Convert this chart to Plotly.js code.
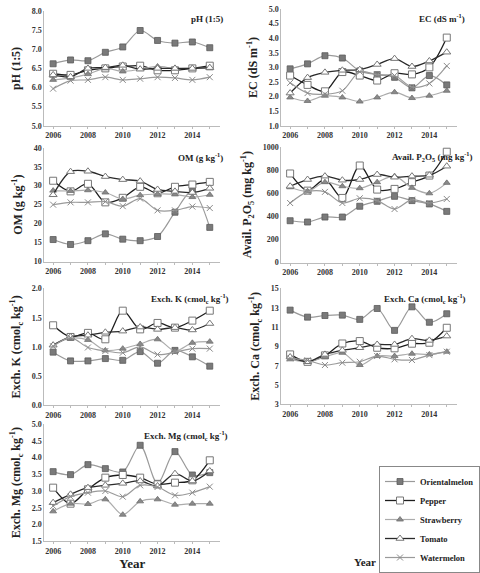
<!DOCTYPE html>
<html>
<head>
<meta charset="utf-8">
<script src="https://cdn.plot.ly/plotly-3.0.1.min.js"></script>
<style>
  html, body { margin: 0; padding: 0; background: #fff; }
  #chart { width: 480px; height: 573px; }
</style>
</head>
<body>
<div id="chart"></div>
<script>
// Soil properties of greenhouse fields by crop, 2006–2015
const years = [2006, 2007, 2008, 2009, 2010, 2011, 2012, 2013, 2014, 2015];
const crops = ['Orientalmelon', 'Pepper', 'Strawberry', 'Tomato', 'Watermelon'];
const yearTicks = [2006, 2008, 2010, 2012, 2014];

// Each array lists the crops in the order above
const pH = [
  [6.62, 6.72, 6.70, 6.92, 7.06, 7.49, 7.23, 7.16, 7.19, 7.04],
  [6.36, 6.33, 6.45, 6.50, 6.55, 6.57, 6.45, 6.45, 6.50, 6.57],
  [6.20, 6.25, 6.35, 6.50, 6.42, 6.48, 6.55, 6.50, 6.50, 6.50],
  [6.33, 6.28, 6.50, 6.52, 6.58, 6.48, 6.50, 6.50, 6.50, 6.52],
  [5.97, 6.18, 6.20, 6.27, 6.20, 6.23, 6.27, 6.25, 6.20, 6.27]
];
const ec = [
  [2.95, 3.12, 3.40, 3.32, 2.88, 2.75, 2.66, 2.30, 2.72, 2.40],
  [2.72, 2.40, 2.18, 2.84, 2.72, 2.55, 2.80, 2.76, 3.00, 4.02],
  [1.97, 1.85, 2.03, 1.97, 1.83, 1.97, 2.15, 1.95, 2.03, 2.20],
  [2.12, 2.65, 2.83, 2.90, 2.92, 3.10, 3.30, 3.03, 3.22, 3.52],
  [2.47, 2.12, 2.08, 2.20, 2.85, 2.75, 2.72, 2.33, 2.45, 3.05]
];
const om = [
  [15.8, 14.5, 15.5, 17.3, 15.9, 15.5, 16.6, 23.0, 28.6, 19.0],
  [31.3, 28.5, 30.5, 25.6, 26.8, 29.7, 28.0, 29.7, 30.3, 31.0],
  [28.7, 28.6, 28.8, 28.2, 26.5, 27.5, 27.8, 27.7, 27.0, 27.6],
  [27.6, 33.7, 33.8, 32.4, 31.6, 31.2, 29.0, 28.5, 28.2, 29.3],
  [25.0, 25.6, 25.6, 25.8, 24.6, 26.6, 23.5, 23.5, 24.5, 24.1]
];
const p2o5 = [
  [361, 350, 393, 393, 486, 529, 572, 535, 506, 442],
  [769, 621, 717, 558, 838, 630, 636, 694, 751, 957],
  [650, 616, 694, 659, 642, 694, 746, 645, 598, 688],
  [659, 717, 746, 711, 717, 760, 737, 746, 754, 832],
  [514, 610, 610, 514, 555, 535, 462, 543, 514, 549]
];
const exchK = [
  [0.91, 0.76, 0.76, 0.80, 0.77, 0.92, 0.72, 0.94, 0.83, 0.67],
  [1.37, 1.17, 1.24, 1.13, 1.62, 1.30, 1.41, 1.33, 1.45, 1.62],
  [1.03, 1.15, 1.12, 0.94, 0.97, 1.05, 1.13, 0.93, 1.07, 1.09],
  [1.03, 1.17, 1.20, 1.25, 1.27, 1.34, 1.30, 1.33, 1.29, 1.40],
  [1.01, 1.16, 0.99, 0.93, 0.90, 1.00, 0.87, 0.91, 0.97, 0.97]
];
const exchCa = [
  [12.76, 12.03, 12.20, 12.24, 11.80, 12.93, 10.66, 13.10, 11.50, 12.38],
  [8.17, 7.40, 8.07, 9.30, 9.55, 8.86, 8.80, 9.28, 9.38, 10.93],
  [7.66, 7.41, 7.90, 8.34, 7.07, 8.00, 8.00, 8.24, 8.17, 8.45],
  [7.90, 7.41, 8.17, 8.59, 8.86, 9.20, 9.20, 9.80, 9.62, 10.07],
  [7.76, 7.55, 7.07, 7.31, 7.41, 8.00, 7.66, 7.59, 8.10, 8.45]
];
const exchMg = [
  [3.58, 3.49, 3.79, 3.67, 3.57, 4.37, 3.23, 4.18, 3.48, 3.55],
  [3.10, 2.62, 3.05, 3.40, 3.48, 3.40, 3.20, 3.25, 3.32, 3.92],
  [2.39, 2.62, 2.61, 2.75, 2.29, 2.69, 2.75, 2.59, 2.62, 2.62],
  [2.65, 2.90, 3.10, 3.17, 3.23, 3.30, 3.15, 3.52, 3.30, 3.60],
  [2.55, 2.83, 2.95, 3.00, 2.83, 3.17, 3.12, 2.87, 2.95, 3.13]
];

const serif = 'Liberation Serif, Times New Roman, serif';

// Line and marker style per crop
const styles = [
  { line: { color: '#9a9a9a', width: 1.2 }, marker: { symbol: 'square', size: 6, color: '#7a7a7a', line: { color: '#5a5a5a', width: 0.8 } } },
  { line: { color: '#1e1e1e', width: 1.3 }, marker: { symbol: 'square', size: 7, color: '#ffffff', line: { color: '#777777', width: 1 } } },
  { line: { color: '#acacac', width: 1.2 }, marker: { symbol: 'triangle-up', size: 6, color: '#8a8a8a', line: { color: '#6e6e6e', width: 0.8 } } },
  { line: { color: '#2a2a2a', width: 1.3 }, marker: { symbol: 'triangle-up', size: 7, color: '#ffffff', line: { color: '#777777', width: 1 } } },
  { line: { color: '#9a9a9a', width: 1.2 }, marker: { symbol: 'x-thin-open', size: 6, color: '#8a8a8a', line: { color: '#8a8a8a', width: 1 } } }
];

const panels = [
  { data: pH,     yrange: [5, 8],     dtick: 0.5, fmt: '.1f', ytitle: 'pH (1:5)', label: 'pH (1:5)', col: 0, top: 11, bottom: 126, lx: 210, ly: 19 },
  { data: ec,     yrange: [1, 5],     dtick: 0.5, fmt: '.1f', ytitle: 'EC (dS m<sup>-1</sup>)', label: 'EC (dS m<sup>-1</sup>)', col: 1, top: 9, bottom: 126, lx: 448, ly: 18 },
  { data: om,     yrange: [10, 40],   dtick: 5,   fmt: 'd',   ytitle: 'OM (g kg<sup>-1</sup>)', label: 'OM (g kg<sup>-1</sup>)', col: 0, top: 148, bottom: 262, lx: 203, ly: 157 },
  { data: p2o5,   yrange: [0, 1000],  dtick: 200, fmt: 'd',   ytitle: 'Avail. P<sub>2</sub>O<sub>5</sub> (mg kg<sup>-1</sup>)', label: 'Avail. P<sub>2</sub>O<sub>5</sub> (mg kg<sup>-1</sup>)', col: 1, top: 147, bottom: 263, lx: 437, ly: 157 },
  { data: exchK,  yrange: [0, 2],     dtick: 0.5, fmt: '.1f', ytitle: 'Exch. K (cmol<sub>c</sub> kg<sup>-1</sup>)', label: 'Exch. K (cmol<sub>c</sub> kg<sup>-1</sup>)', col: 0, top: 289, bottom: 406, lx: 192, ly: 299 },
  { data: exchCa, yrange: [3, 15],    dtick: 2,   fmt: 'd',   ytitle: 'Exch. Ca (cmol<sub>c</sub> kg<sup>-1</sup>)', label: 'Exch. Ca (cmol<sub>c</sub> kg<sup>-1</sup>)', col: 1, top: 289, bottom: 405, lx: 430, ly: 299 },
  { data: exchMg, yrange: [1.5, 5],   dtick: 0.5, fmt: '.1f', ytitle: 'Exch. Mg (cmol<sub>c</sub> kg<sup>-1</sup>)', label: 'Exch. Mg (cmol<sub>c</sub> kg<sup>-1</sup>)', col: 0, top: 425, bottom: 542, lx: 188, ly: 436 }
];

const W = 480, H = 573;
const colX = [[45, 223], [285, 463]];

const traces = [];
const layout = {
  width: W, height: H,
  margin: { l: 0, r: 0, t: 0, b: 0 },
  paper_bgcolor: '#ffffff', plot_bgcolor: '#ffffff',
  showlegend: true,
  legend: {
    x: 384 / W, y: 1 - 467 / H, xanchor: 'left', yanchor: 'top',
    bgcolor: '#ffffff', bordercolor: '#888888', borderwidth: 1,
    font: { family: serif, size: 8.5, color: '#222', weight: 'bold' },
    itemwidth: 30, tracegroupgap: 0
  },
  annotations: []
};

panels.forEach((p, i) => {
  const n = i + 1;
  const xa = 'x' + (n === 1 ? '' : n);
  const ya = 'y' + (n === 1 ? '' : n);
  p.data.forEach((vals, k) => {
    traces.push({
      x: years, y: vals, name: crops[k],
      type: 'scatter', mode: 'lines+markers',
      line: Object.assign({ shape: 'spline', smoothing: 0.9 }, styles[k].line),
      marker: styles[k].marker,
      xaxis: xa, yaxis: ya,
      showlegend: i === 0,
      cliponaxis: false
    });
  });
  const cx = colX[p.col];
  const xaxis = {
    domain: [cx[0] / W, cx[1] / W],
    range: [2005.5, 2015.6],
    anchor: ya,
    tickvals: yearTicks,
    ticks: 'outside', ticklen: 2, tickcolor: '#bbbbbb',
    minor: { tick0: 2006, dtick: 1, ticks: 'outside', ticklen: 2, tickcolor: '#bbbbbb', showgrid: false },
    showline: true, linecolor: '#bbbbbb', linewidth: 1,
    showgrid: false, zeroline: false,
    tickfont: { family: serif, size: 8, color: '#333', weight: 'bold' },
    automargin: false
  };
  if (n === 7) {
    xaxis.title = { text: 'Year', standoff: 2, font: { family: serif, size: 13, color: '#222', weight: 'bold' } };
  }
  layout['xaxis' + (n === 1 ? '' : n)] = xaxis;
  layout['yaxis' + (n === 1 ? '' : n)] = {
    domain: [1 - p.bottom / H, 1 - p.top / H],
    range: p.yrange, dtick: p.dtick, tick0: p.yrange[0], tickformat: p.fmt,
    anchor: xa,
    ticks: '', showline: true, linecolor: '#bbbbbb', linewidth: 1,
    showgrid: false, zeroline: false,
    tickfont: { family: serif, size: 8, color: '#333', weight: 'bold' },
    automargin: false,
    title: { text: p.ytitle, standoff: 8, font: { family: serif, size: 12, color: '#222', weight: 'bold' } }
  };
  layout.annotations.push({
    xref: 'paper', yref: 'paper', x: p.lx / W, y: 1 - p.ly / H,
    xanchor: 'center', yanchor: 'middle', showarrow: false,
    text: p.label, font: { family: serif, size: 9, color: '#222', weight: 'bold' }
  });
});

// Axis caption under the legend box
layout.annotations.push({
  xref: 'paper', yref: 'paper', x: 370 / W, y: 1 - 563 / H,
  xanchor: 'center', yanchor: 'middle', showarrow: false,
  text: 'Year', font: { family: serif, size: 11, color: '#222', weight: 'bold' }
});

Plotly.newPlot('chart', traces, layout, { displayModeBar: false, staticPlot: true });
</script>
</body>
</html>
